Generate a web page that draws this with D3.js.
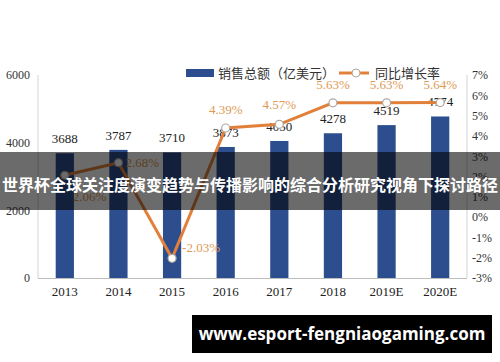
<!DOCTYPE html>
<html>
<head>
<meta charset="utf-8">
<script src="https://cdn.jsdelivr.net/npm/d3@7"></script>
<style>
  body { margin: 0; background: #fff; }
  svg { display: block; }
</style>
</head>
<body>
<div id="chart"></div>
<script>
// chart data
const years = ["2013", "2014", "2015", "2016", "2017", "2018", "2019E", "2020E"];
const sales = [3688, 3787, 3710, 3873, 4050, 4278, 4519, 4774];
const growth = [2.06, 2.68, -2.03, 4.39, 4.57, 5.63, 5.63, 5.64];
const leftTicks = [0, 2000, 4000, 6000];
const rightTicks = [-3, -2, -1, 0, 1, 2, 3, 4, 5, 6, 7];
const legendLabels = ["销售总额（亿美元）", "同比增长率"];
const bannerTitle = "世界杯全球关注度演变趋势与传播影响的综合分析研究视角下探讨路径";
const watermark = "www.esport-fengniaogaming.com";

// label placement for the growth points: [dx, dy, anchor]
const growthLabelPos = [[8, 26, "start"], [7, 4, "start"], [10, -6, "start"],
  [0, -14, "middle"], [0, -15, "middle"], [0, -14, "middle"], [0, -14, "middle"], [0, -14, "middle"]];

const width = 500, height = 362;
const margin = { left: 38, right: 33, top: 75, bottom: 84 };
const serif = "'Liberation Serif', 'DejaVu Serif', serif";
const sans = "'Noto Sans CJK SC', 'Noto Sans', sans-serif";

const svg = d3.select("#chart").append("svg")
    .attr("width", width)
    .attr("height", height);

const x = d3.scaleBand()
    .domain(years)
    .range([margin.left, width - margin.right])
    .paddingInner(0.66)
    .paddingOuter(0.33);

const yL = d3.scaleLinear()
    .domain([0, 6000])
    .range([height - margin.bottom, margin.top]);

const yR = d3.scaleLinear()
    .domain([-3, 7])
    .range([height - margin.bottom, margin.top]);

// axis frame lines
svg.append("line")
    .attr("x1", margin.left).attr("x2", margin.left)
    .attr("y1", margin.top).attr("y2", yL(0))
    .attr("stroke", "#d4d4d4");
svg.append("line")
    .attr("x1", width - margin.right).attr("x2", width - margin.right)
    .attr("y1", margin.top).attr("y2", yL(0))
    .attr("stroke", "#d4d4d4");
svg.append("line")
    .attr("x1", margin.left).attr("x2", width - margin.right)
    .attr("y1", yL(0) + 0.5).attr("y2", yL(0) + 0.5)
    .attr("stroke", "#bdbdbd");

// left axis
const leftAxis = svg.append("g")
    .attr("transform", `translate(${margin.left - 8},0)`)
    .call(d3.axisLeft(yL).tickValues(leftTicks).tickSize(0).tickPadding(0)
        .tickFormat(d3.format("d")));
leftAxis.select(".domain").remove();
leftAxis.selectAll("text")
    .attr("font-family", serif).attr("font-size", 12).attr("fill", "#333");

// right axis
const rightAxis = svg.append("g")
    .attr("transform", `translate(${width - margin.right + 5},0)`)
    .call(d3.axisRight(yR).tickValues(rightTicks).tickSize(0).tickPadding(0)
        .tickFormat(d => d + "%"));
rightAxis.select(".domain").remove();
rightAxis.selectAll("text")
    .attr("font-family", serif).attr("font-size", 12).attr("fill", "#333");

// bottom axis
const bottomAxis = svg.append("g")
    .attr("transform", `translate(0,${yL(0) + 9})`)
    .call(d3.axisBottom(x).tickSize(0).tickPadding(0));
bottomAxis.select(".domain").remove();
bottomAxis.selectAll("text")
    .attr("font-family", serif).attr("font-size", 13).attr("fill", "#222");

// bars
svg.append("g")
    .selectAll("rect")
    .data(sales)
    .join("rect")
    .attr("x", (d, i) => x(years[i]))
    .attr("y", d => yL(d))
    .attr("width", x.bandwidth())
    .attr("height", d => yL(0) - yL(d))
    .attr("fill", "#2d4e8e");

// bar value labels
svg.append("g")
    .selectAll("text")
    .data(sales)
    .join("text")
    .attr("x", (d, i) => x(years[i]) + x.bandwidth() / 2)
    .attr("y", d => yL(d) - 10)
    .attr("text-anchor", "middle")
    .attr("font-family", serif)
    .attr("font-size", 13)
    .attr("fill", "#222")
    .text(d => d);

// growth line
const line = d3.line()
    .x((d, i) => x(years[i]) + x.bandwidth() / 2)
    .y(d => yR(d));

svg.append("path")
    .datum(growth)
    .attr("d", line)
    .attr("fill", "none")
    .attr("stroke", "#e2803a")
    .attr("stroke-width", 3);

svg.append("g")
    .selectAll("circle")
    .data(growth)
    .join("circle")
    .attr("cx", (d, i) => x(years[i]) + x.bandwidth() / 2)
    .attr("cy", d => yR(d))
    .attr("r", 4)
    .attr("fill", "#fff")
    .attr("stroke", "#b0a8a0")
    .attr("stroke-width", 1.2);

svg.append("g")
    .selectAll("text")
    .data(growth)
    .join("text")
    .attr("x", (d, i) => x(years[i]) + x.bandwidth() / 2 + growthLabelPos[i][0])
    .attr("y", (d, i) => yR(d) + growthLabelPos[i][1])
    .attr("text-anchor", (d, i) => growthLabelPos[i][2])
    .attr("font-family", serif)
    .attr("font-size", 13)
    .attr("fill", "#dd9a55")
    .text(d => d.toFixed(2) + "%");

// legend
const legend = svg.append("g").attr("font-family", sans).attr("font-size", 13).attr("fill", "#333");
legend.append("rect")
    .attr("x", 186).attr("y", 69).attr("width", 28).attr("height", 8)
    .attr("fill", "#2d4e8e");
legend.append("text")
    .attr("x", 218).attr("y", 78)
    .text(legendLabels[0]);
legend.append("line")
    .attr("x1", 339).attr("x2", 369).attr("y1", 73).attr("y2", 73)
    .attr("stroke", "#e2803a").attr("stroke-width", 3);
legend.append("circle")
    .attr("cx", 356).attr("cy", 73).attr("r", 4)
    .attr("fill", "#fff").attr("stroke", "#b0a8a0");
legend.append("text")
    .attr("x", 375).attr("y", 78)
    .text(legendLabels[1]);

// title banner overlay
svg.append("rect")
    .attr("x", 0).attr("y", 152)
    .attr("width", width).attr("height", 58)
    .attr("fill", "rgba(0,0,0,0.58)");
svg.append("text")
    .attr("x", width / 2).attr("y", 191)
    .attr("text-anchor", "middle")
    .attr("font-family", sans)
    .attr("font-weight", "bold")
    .attr("font-size", 16)
    .attr("fill", "#fff")
    .text(bannerTitle);

// watermark
svg.append("rect")
    .attr("x", 192).attr("y", 315)
    .attr("width", 300).attr("height", 38)
    .attr("fill", "#000");
svg.append("text")
    .attr("x", 342).attr("y", 340)
    .attr("text-anchor", "middle")
    .attr("font-family", "'Open Sans', sans-serif")
    .attr("font-weight", "bold")
    .attr("font-size", 17)
    .attr("fill", "#fff")
    .text(watermark);
</script>
</body>
</html>
